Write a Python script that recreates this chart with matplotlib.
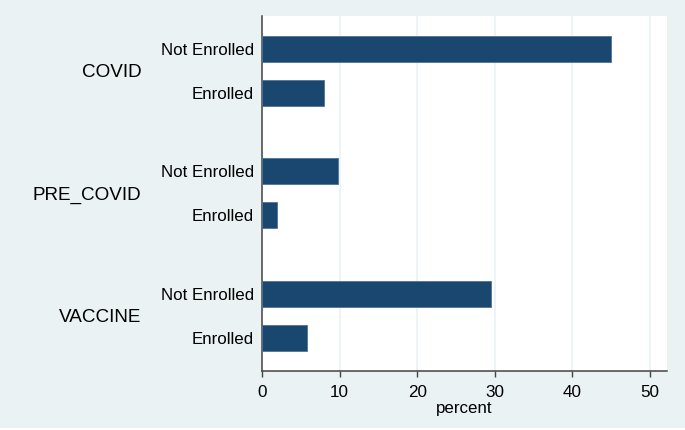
import numpy as np
import matplotlib.pyplot as plt
import matplotlib.transforms as mtransforms
from matplotlib.patches import Rectangle

plt.rcParams['font.family'] = ['Liberation Sans', 'DejaVu Sans']

groups = ["COVID", "PRE_COVID", "VACCINE"]
subgroups = ["Not Enrolled", "Enrolled"]
percent = [
    [45.0, 8.0],   # COVID
    [9.8, 1.9],    # PRE_COVID
    [29.5, 5.8],   # VACCINE
]
xticks = [0, 10, 20, 30, 40, 50]

bg = "#EAF2F3"
bar_color = "#1A476F"

fig = plt.figure(figsize=(6.85, 4.30), dpi=100)
fig.patch.set_facecolor(bg)
# thin white strip along the bottom edge
fig.patches.append(Rectangle((0, 0), 1, 2 / 430, transform=fig.transFigure,
                             facecolor="white", edgecolor="none"))
ax = fig.add_axes([262 / 685, 1 - 371 / 430, 405 / 685, 355 / 430])
ax.set_facecolor("white")

group_step = 2.78
pos = []
vals = []
labels = []
centers = []
for g, name in enumerate(groups):
    base = g * group_step
    centers.append(base + 0.5)
    for s, sub in enumerate(subgroups):
        pos.append(base + s)
        vals.append(percent[g][s])
        labels.append(sub)

ax.barh(pos, vals, height=0.59, color=bar_color, edgecolor="#4F7396",
        linewidth=0.6, zorder=3)

ax.set_xlim(0, 52.2)
ax.set_ylim(7.32, -0.75)
ax.set_xticks(xticks)
ax.set_xticklabels([str(t) for t in xticks], fontsize=12.3)
ax.set_yticks(pos)
ax.set_yticklabels(labels, fontsize=12.2)
ax.tick_params(axis="y", length=0, pad=6)
ax.tick_params(axis="x", length=4, width=1, color="#444444", pad=6)
ax.xaxis.grid(True, color=bg, linewidth=1.2, zorder=0)
ax.set_axisbelow(True)

for side in ["top", "right"]:
    ax.spines[side].set_visible(False)
for side in ["left", "bottom"]:
    ax.spines[side].set_color("#444444")
    ax.spines[side].set_linewidth(1.1)

ax.set_xlabel("percent", fontsize=12.2, labelpad=1)

trans = mtransforms.blended_transform_factory(ax.transAxes, ax.transData)
for c, name in zip(centers, groups):
    ax.text(-0.298, c, name, transform=trans, ha="right", va="center_baseline",
            fontsize=13.6)

fig.savefig("out.png", dpi=100, facecolor=fig.get_facecolor())
